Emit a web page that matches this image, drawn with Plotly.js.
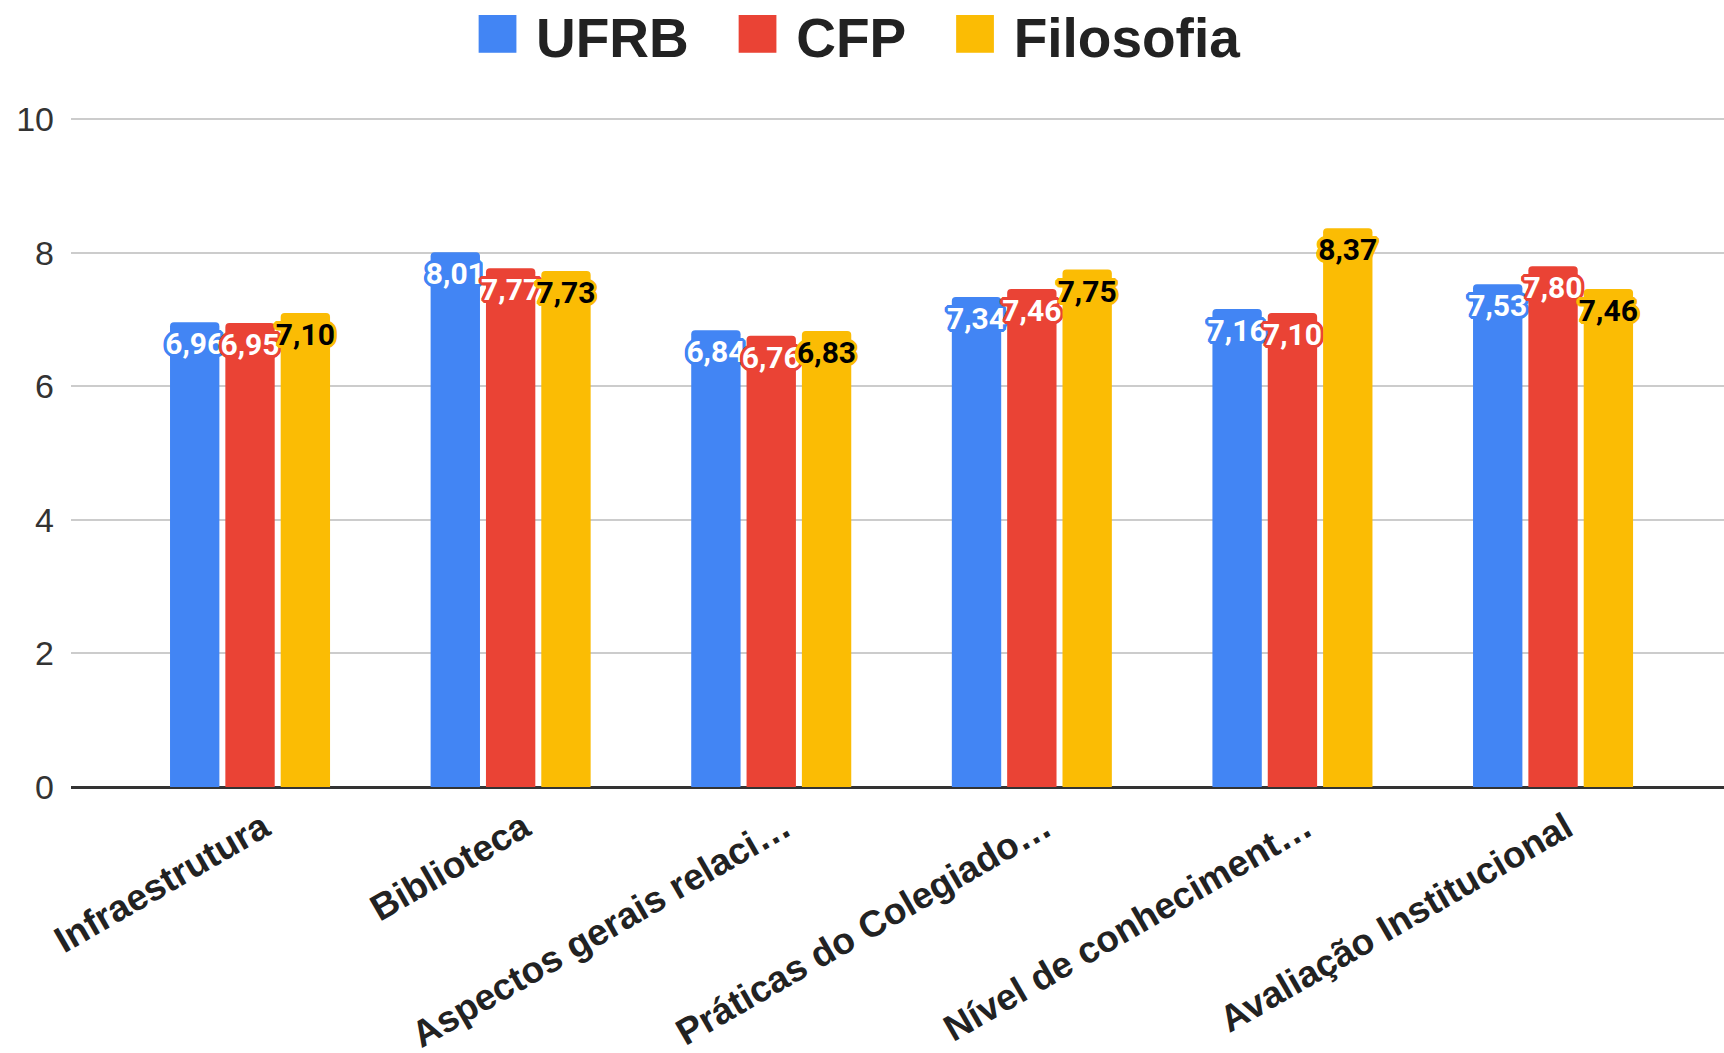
<!DOCTYPE html>
<html>
<head>
<meta charset="utf-8">
<script src="https://cdn.plot.ly/plotly-3.0.1.min.js"></script>
<style>
  html, body { margin: 0; padding: 0; background: #ffffff; }
  #chart { width: 1724px; height: 1053px; }
</style>
</head>
<body>
<div id="chart"></div>
<script>
// ---- data ----
const categories = [
  "Infraestrutura",
  "Biblioteca",
  "Aspectos gerais relaci\u2026",
  "Pr\u00e1ticas do Colegiado\u2026",
  "N\u00edvel de conheciment\u2026",
  "Avalia\u00e7\u00e3o Institucional"
];
const seriesNames = ["UFRB", "CFP", "Filosofia"];
const ufrb      = [6.96, 8.01, 6.84, 7.34, 7.16, 7.53];
const cfp       = [6.95, 7.77, 6.76, 7.46, 7.10, 7.80];
const filosofia = [7.10, 7.73, 6.83, 7.75, 8.37, 7.46];
const yTicks    = [0, 2, 4, 6, 8, 10];

// ---- styles ----
const colors = ["#4285F4", "#EA4335", "#FBBC04"];
const labelColors = ["#ffffff", "#ffffff", "#000000"];
const values = [ufrb, cfp, filosofia];

function halo(c) {
  const o = [];
  const pts = [[3,0],[-3,0],[0,3],[0,-3],[2,2],[-2,-2],[2,-2],[-2,2],[3,1],[3,-1],[-3,1],[-3,-1],[1,3],[-1,3],[1,-3],[-1,-3]];
  pts.forEach(p => o.push(p[0] + "px " + p[1] + "px 0 " + c));
  return o.join(", ");
}

const traces = [];
values.forEach((v, i) => {
  const f = {
    family: "Roboto, 'Liberation Sans', sans-serif",
    size: 30,
    weight: "bold",
    color: labelColors[i],
    shadow: halo(colors[i])
  };
  traces.push({
    type: "bar",
    name: seriesNames[i],
    x: categories,
    y: v,
    marker: { color: colors[i], cornerradius: 4, line: { width: 0 } },
    texttemplate: "%{y:.2f}",
    textposition: "inside",
    insidetextanchor: "end",
    textangle: 0,
    constraintext: "none",
    textfont: f,
    insidetextfont: f,
    showlegend: false,
    hoverinfo: "skip"
  });
});

// legend-only entries with a large coloured square
seriesNames.forEach((n, i) => {
  traces.push({
    type: "scatter",
    mode: "none",
    x: [null],
    y: [null],
    name: '<span style="color:' + colors[i] + ';font-size:78px">\u25A0</span>\u00a0' + n,
    showlegend: true,
    hoverinfo: "skip"
  });
});

const layout = {
  width: 1724,
  height: 1053,
  margin: { l: 71, r: 0, t: 118, b: 266, pad: 0, autoexpand: false },
  paper_bgcolor: "#ffffff",
  plot_bgcolor: "#ffffff",
  separators: ",.",
  bargap: 0.363,
  bargroupgap: 0.108,
  barmode: "group",
  uniformtext: { mode: "show", minsize: 30 },
  showlegend: true,
  legend: {
    orientation: "h",
    xref: "paper",
    x: 0.465,
    xanchor: "center",
    yref: "container",
    y: 0.966,
    yanchor: "middle",
    font: { family: "'Liberation Sans', Arial, sans-serif", size: 55, weight: "bold", color: "#222222" },
    itemclick: false,
    itemdoubleclick: false
  },
  xaxis: {
    type: "category",
    range: [-0.687, 5.656],
    tickangle: -30,
    tickfont: { family: "'Liberation Sans', Arial, sans-serif", size: 37, weight: "bold", color: "#222222" },
    ticklabelshift: 13,
    ticklabelstandoff: 11,
    showgrid: false,
    showline: false,
    ticks: "",
    automargin: false,
    fixedrange: true
  },
  yaxis: {
    range: [0, 10.02],
    tickvals: yTicks,
    ticktext: yTicks.map(String),
    tickfont: { family: "'Liberation Sans', Arial, sans-serif", size: 34, color: "#333333" },
    ticklabelstandoff: 16,
    showgrid: true,
    gridcolor: "#cccccc",
    gridwidth: 2,
    zeroline: true,
    zerolinecolor: "#333333",
    zerolinewidth: 3,
    showline: false,
    ticks: "",
    automargin: false,
    fixedrange: true
  }
};

Plotly.newPlot("chart", traces, layout, { displayModeBar: false, staticPlot: true });
</script>
</body>
</html>
